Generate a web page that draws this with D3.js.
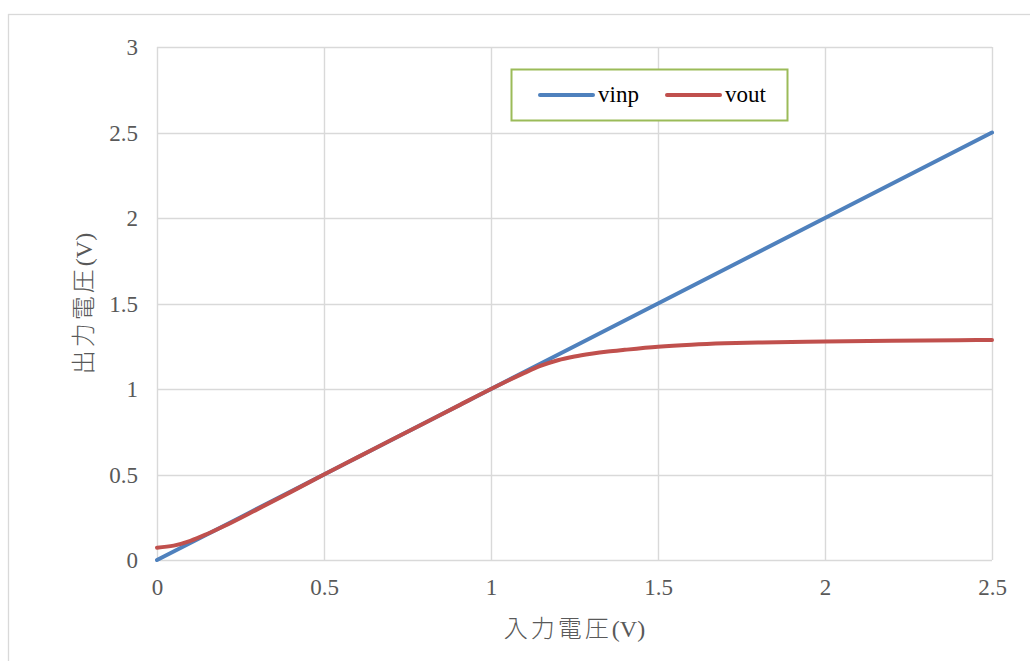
<!DOCTYPE html>
<html>
<head>
<meta charset="utf-8">
<script src="https://cdn.jsdelivr.net/npm/d3@7"></script>
<style>
  html, body { margin: 0; padding: 0; background: #fff; }
  svg { display: block; }
</style>
</head>
<body>
<svg id="chart" width="1030" height="661"></svg>
<script>
// Input voltage sweep (V)
const vinX = [0, 0.5, 1, 1.5, 2, 2.5];
const vinY = [0, 0.5, 1, 1.5, 2, 2.5];

// Output voltage of the circuit vs input voltage (V)
const voutX = [0, 0.05, 0.1, 0.15, 0.2, 0.3, 0.4, 0.5, 0.6, 0.7, 0.8, 0.9, 1.0,
               1.05, 1.1, 1.15, 1.2, 1.25, 1.3, 1.35, 1.4, 1.5, 1.6, 1.7, 1.8,
               1.9, 2.0, 2.2, 2.4, 2.5];
const voutY = [0.072, 0.084, 0.112, 0.152, 0.197, 0.296, 0.397, 0.5, 0.6, 0.7, 0.8, 0.9, 1.0,
               1.048, 1.094, 1.136, 1.168, 1.19, 1.206, 1.219, 1.229, 1.247, 1.259, 1.267, 1.272,
               1.275, 1.278, 1.282, 1.285, 1.287];

const xTicks = [0, 0.5, 1, 1.5, 2, 2.5];
const yTicks = [0, 0.5, 1, 1.5, 2, 2.5, 3];
const seriesNames = ["vinp", "vout"];
const seriesColors = ["#4f81bd", "#c0504d"];

const svg = d3.select("#chart");
const plot = { left: 157, top: 47, right: 992, bottom: 560 };

const x = d3.scaleLinear().domain([0, 2.5]).range([plot.left, plot.right]);
const y = d3.scaleLinear().domain([0, 3]).range([plot.bottom, plot.top]);

const grid = "#d9d9d9";
const textColor = "#595959";
const latin = "'Liberation Serif', 'Times New Roman', serif";
const cjk = "'Noto Sans CJK JP', 'Noto Sans CJK SC', sans-serif";

// Chart frame
svg.append("rect")
  .attr("x", 8.5).attr("y", 14.5)
  .attr("width", 1040).attr("height", 700)
  .attr("fill", "#fff").attr("stroke", grid).attr("stroke-width", 1.3);

// Gridlines
svg.append("g")
  .selectAll("line.h")
  .data(yTicks)
  .join("line")
  .attr("x1", plot.left).attr("x2", plot.right)
  .attr("y1", d => Math.round(y(d)) + 0.5).attr("y2", d => Math.round(y(d)) + 0.5)
  .attr("stroke", grid).attr("stroke-width", 1.4);

svg.append("g")
  .selectAll("line.v")
  .data(xTicks)
  .join("line")
  .attr("y1", plot.top).attr("y2", plot.bottom)
  .attr("x1", d => Math.round(x(d)) + 0.5).attr("x2", d => Math.round(x(d)) + 0.5)
  .attr("stroke", grid).attr("stroke-width", 1.4);

// Axes (labels only; the lines are the gridlines)
const xAxis = svg.append("g")
  .attr("transform", `translate(0,${plot.bottom})`)
  .call(d3.axisBottom(x).tickValues(xTicks).tickSize(0).tickPadding(0).tickFormat(d3.format("")));
xAxis.select(".domain").remove();
xAxis.selectAll("text")
  .attr("y", 35).attr("dy", null)
  .attr("font-family", latin).attr("font-size", 23).attr("fill", textColor);

const yAxis = svg.append("g")
  .attr("transform", `translate(${plot.left},0)`)
  .call(d3.axisLeft(y).tickValues(yTicks).tickSize(0).tickPadding(0).tickFormat(d3.format("")));
yAxis.select(".domain").remove();
yAxis.selectAll("text")
  .attr("x", -19).attr("dy", "0.34em")
  .attr("font-family", latin).attr("font-size", 23).attr("fill", textColor);

// Series lines
const line = d3.line().x(d => x(d[0])).y(d => y(d[1])).curve(d3.curveMonotoneX);
const series = [
  d3.zip(vinX, vinY),
  d3.zip(voutX, voutY)
];
svg.append("g")
  .selectAll("path")
  .data(series)
  .join("path")
  .attr("d", line)
  .attr("fill", "none")
  .attr("stroke", (d, i) => seriesColors[i])
  .attr("stroke-width", 4)
  .attr("stroke-linecap", "round")
  .attr("stroke-linejoin", "round");

// Legend
const legend = svg.append("g");
legend.append("rect")
  .attr("x", 511.5).attr("y", 69.5).attr("width", 276).attr("height", 51)
  .attr("fill", "#fff").attr("stroke", "#9bbb59").attr("stroke-width", 2);
const legendX = [540, 667];
const items = legend.selectAll("g.item")
  .data(seriesNames)
  .join("g")
  .attr("transform", (d, i) => `translate(${legendX[i]},95)`);
items.append("line")
  .attr("x1", 0).attr("x2", 53).attr("y1", 0).attr("y2", 0)
  .attr("stroke", (d, i) => seriesColors[i])
  .attr("stroke-width", 4).attr("stroke-linecap", "round");
items.append("text")
  .attr("x", 58).attr("y", 0).attr("dy", "0.32em")
  .attr("font-family", latin).attr("font-size", 23).attr("fill", "#000")
  .text(d => d);

// Axis titles
function title(g, cjkText) {
  g.append("tspan").attr("font-family", cjk).attr("font-size", 24)
    .attr("letter-spacing", 3).attr("font-weight", 300).text(cjkText);
  g.append("tspan").attr("font-family", latin).attr("font-size", 24).text("(V)");
}
const xt = svg.append("text")
  .attr("x", (plot.left + plot.right) / 2).attr("y", 637)
  .attr("text-anchor", "middle").attr("fill", textColor);
title(xt, "入力電圧");

const yt = svg.append("text")
  .attr("transform", `translate(92,${(plot.top + plot.bottom) / 2}) rotate(-90)`)
  .attr("text-anchor", "middle").attr("fill", textColor);
title(yt, "出力電圧");
</script>
</body>
</html>
